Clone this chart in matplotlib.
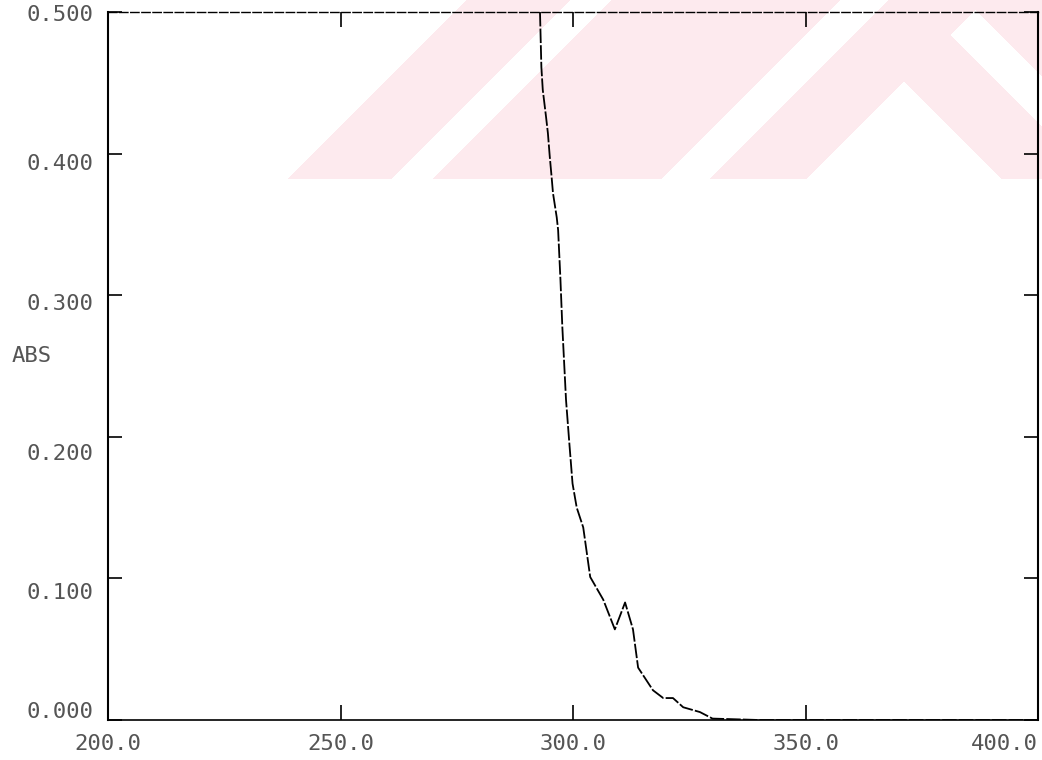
import numpy as np
import matplotlib.pyplot as plt
import matplotlib.transforms as mtransforms

# absorbance spectrum
wavelength = [292.9, 293.2, 293.5, 294.2, 294.6, 295.0, 295.4, 295.7, 296.5, 296.8,
              297.3, 297.7, 298.1, 298.5, 299.2, 299.9, 300.8, 302.2, 303.7, 306.5,
              309.0, 311.2, 312.9, 314.0, 317.2, 319.4, 321.5, 323.7, 327.3, 330.0,
              340.0, 400.0]
absorbance = [0.500, 0.461, 0.445, 0.426, 0.4145, 0.398, 0.3835, 0.372, 0.355, 0.346,
              0.311, 0.278, 0.252, 0.226, 0.196, 0.167, 0.150, 0.136, 0.101, 0.085,
              0.064, 0.083, 0.064, 0.037, 0.021, 0.0155, 0.0155, 0.009, 0.0056, 0.001,
              0.0, 0.0]

x_ticks = [200, 250, 300, 350, 400]
x_labels = ["200.0", "250.0", "300.0", "350.0", "400.0"]
y_ticks = [0.0, 0.1, 0.2, 0.3, 0.4, 0.5]
y_labels = ["0.000", "0.100", "0.200", "0.300", "0.400", "0.500"]
y_label_shift = [-8, 15, 17, 9, 10, 3]  # px, printer misalignment

W, H = 1042, 760
fig = plt.figure(figsize=(W / 100, H / 100), dpi=100)

# pink stripe logo printed in the top band of the page
yy, xx = np.mgrid[0:H, 0:W].astype(float)
s = xx + yy
d = yy - xx
pink = (yy <= 178) & (s >= 466)
pink &= ~((s >= 570) & (s <= 610))
pink &= ~((s >= 840) & (s <= 887))
pink &= ~((s >= 985) & (d >= -822))
pink &= ~((s >= 985) & (d >= -965) & (d <= -916))
img = np.ones((H, W, 4))
img[pink, :3] = np.array([253, 234, 238]) / 255.0
bg = fig.add_axes([0, 0, 1, 1], zorder=0)
bg.imshow(img, extent=(0, W, H, 0), aspect='auto', interpolation='bilinear')
bg.axis('off')

ax = fig.add_axes([108 / W, 40 / H, 930 / W, 708 / H], zorder=1)
ax.set_facecolor('none')

ax.plot(wavelength, absorbance, color='black', lw=1.3, linestyle=(0, (8, 1.2)))

ax.set_xlim(200, 400)
ax.set_ylim(0, 0.5)

for side in ['left', 'right']:
    ax.spines[side].set_linewidth(1.5)
ax.spines['top'].set_linewidth(1.0)
ax.spines['top'].set_linestyle((0, (6, 2)))
ax.spines['bottom'].set_linewidth(1.2)
ax.spines['bottom'].set_linestyle((0, (5, 1)))

font = dict(family='DejaVu Sans Mono', fontsize=16, color='#555555')

ax.set_xticks(x_ticks)
ax.set_xticklabels(x_labels, **font)
ax.tick_params(axis='x', direction='in', length=11, width=1.2, top=True, pad=10)
labels = ax.get_xticklabels()
labels[-1].set_ha('right')

ax.set_yticks(y_ticks)
ax.tick_params(axis='y', direction='in', length=10, width=1.2, right=True,
               labelleft=False)

ytrans = ax.get_yaxis_transform()
for val, lab, dy in zip(y_ticks, y_labels, y_label_shift):
    tr = mtransforms.offset_copy(ytrans, fig=fig, x=-15, y=-dy, units='dots')
    ax.text(0, val, lab, transform=tr, ha='right', va='center', **font)

fig.text(12 / W, 1 - 356 / H, "ABS", ha='left', va='center', **font)

fig.savefig('out.png', dpi=100)
